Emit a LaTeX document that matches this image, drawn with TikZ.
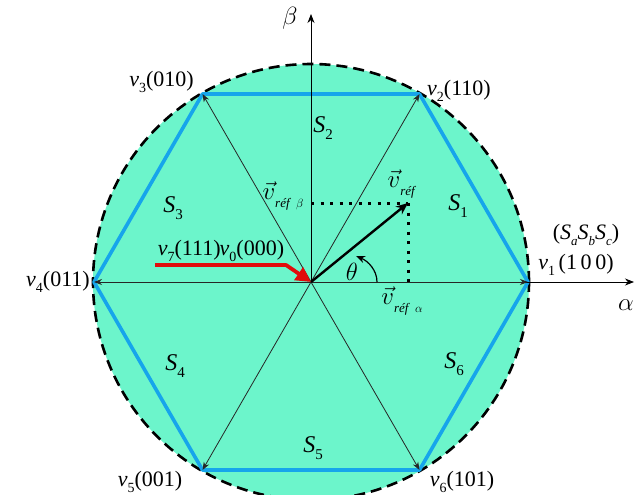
\documentclass[tikz,border=0pt]{standalone}
\usepackage{fontspec}
\setmainfont{Liberation Serif}
\usetikzlibrary{arrows.meta}
\definecolor{fillg}{RGB}{108,245,203}
\definecolor{hexblue}{RGB}{22,165,235}
\definecolor{redarr}{RGB}{225,12,12}
\newcommand{\vlab}[2]{\textit{v}\raisebox{-0.3em}{\fontsize{14}{14}\selectfont #1}(#2)}
\newcommand{\slab}[1]{\textit{S}\raisebox{-0.3em}{\fontsize{15}{15}\selectfont #1}}
\newcommand{\sub}[1]{\raisebox{-0.3em}{\fontsize{13}{13}\selectfont\textit{#1}}}
\begin{document}
\begin{tikzpicture}[x=1pt,y=-1pt,
  lbl/.style={font=\fontsize{22}{26}\selectfont, inner sep=0pt},
  slbl/.style={font=\fontsize{24}{28}\selectfont, inner sep=0pt},
  vecline/.style={draw=black!85, line width=0.8pt, -{Stealth[length=8pt,width=6pt]}},
  axisline/.style={draw=black, line width=0.8pt, -{Stealth[length=9pt,width=7pt]}},
  dotline/.style={draw=black, line width=3pt, dash pattern=on 3pt off 6.5pt}]
\useasboundingbox (0,0) rectangle (635,495);
\coordinate (O) at (311,282);
\fill[fillg] (O) circle[radius=218pt];
\draw[black, line width=2.6pt, dash pattern=on 11pt off 6pt] (O) circle[radius=218pt];
\coordinate (v1) at (528,282);
\coordinate (v2) at (419.5,94);
\coordinate (v3) at (202.5,94);
\coordinate (v4) at (94,282);
\coordinate (v5) at (202.5,470);
\coordinate (v6) at (419.5,470);
\draw[hexblue, line width=3.6pt, line join=round] (v1)--(v2)--(v3)--(v4)--(v5)--(v6)--cycle;
% axes
\coordinate (ax) at (634,282);
\coordinate (by) at (311,14);
\draw[axisline] (O) -- (ax);
\draw[axisline] (O) -- (by);
% sector lines
\foreach \v in {v1,v2,v3,v4,v5,v6} \draw[vecline] (O) -- (\v);
% dotted projections
\coordinate (vr) at (408,203);
\coordinate (vb) at (311,203);
\coordinate (va) at (408,282);
\draw[dotline] (vb) -- (vr);
\draw[dotline] (vr) -- (va);
% reference vector
\draw[black, line width=2.4pt, -{Stealth[length=12pt,width=10pt]}] (O) -- (vr);
% theta arc
\coordinate (t0) at (377,282);
\coordinate (t1) at (356,256);
\draw[black, line width=1.2pt, -{Stealth[length=9pt,width=7pt]}] (t0) .. controls (377,270) and (368,261) .. (t1);
% red arrow
\coordinate (r0) at (155,265);
\coordinate (r1) at (286,265);
\draw[redarr, line width=3.8pt, line join=round, -{Triangle[length=15pt,width=15pt]}] (r0) -- (r1) -- (O);
% labels
\node[lbl, anchor=east] (l3) at (194,82) {\vlab{3}{010}};
\node[lbl, anchor=west] (l2) at (427,91) {\vlab{2}{110}};
\node[lbl, anchor=east] (l4) at (90,282) {\vlab{4}{011}};
\node[lbl] (l1) at (576,265) {\textit{v}\raisebox{-0.3em}{\fontsize{14}{14}\selectfont 1}\,(1\,0\,0)};
\node[lbl] (ls) at (586,235) {(\textit{S}\sub{a}\textit{S}\sub{b}\textit{S}\sub{c})};
\node[lbl] (l5) at (150,482) {\vlab{5}{001}};
\node[lbl] (l6) at (462,482) {\vlab{6}{101}};
\node[lbl] (l7) at (221,251) {\vlab{7}{111}\kern-1pt\vlab{0}{000}};
\node[slbl] (s1) at (458,206) {\slab{1}};
\node[slbl] (s2) at (323,128) {\slab{2}};
\node[slbl] (s3) at (173,208) {\slab{3}};
\node[slbl] (s4) at (175,366) {\slab{4}};
\node[slbl] (s5) at (313,448) {\slab{5}};
\node[slbl] (s6) at (454,364) {\slab{6}};
\node[slbl] (al) at (626,305) {$\alpha$};
\node[slbl] (be) at (290,18) {$\beta$};
\node[slbl] (th) at (352,272) {$\theta$};
\node[slbl] (vref) at (402,184) {$\vec{v}$\sub{réf}};
\node[slbl] (vrb) at (283,196) {$\vec{v}$\sub{réf\ \ $\beta$}};
\node[slbl] (vra) at (402,301) {$\vec{v}$\sub{réf\ \ $\alpha$}};
\end{tikzpicture}
\end{document}
